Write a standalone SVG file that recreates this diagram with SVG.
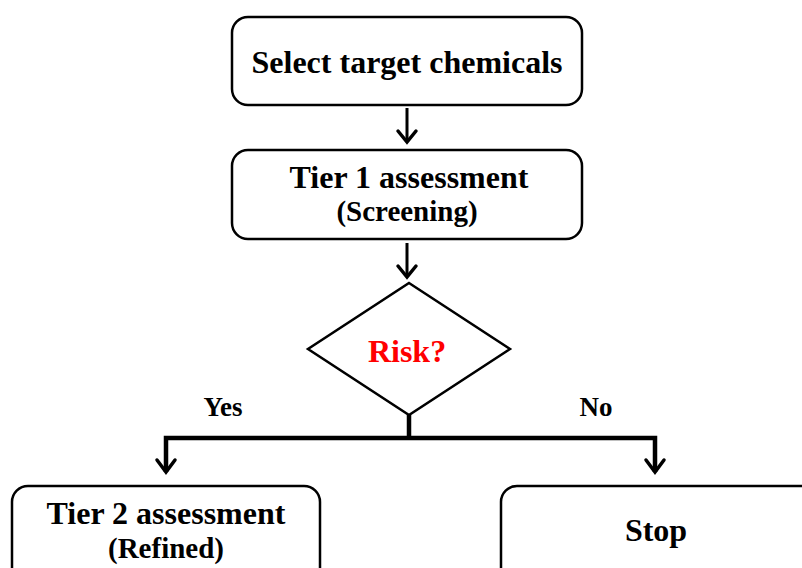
<svg xmlns="http://www.w3.org/2000/svg" width="802" height="568" viewBox="0 0 802 568">
<defs>
<style>
.box{fill:#fff;stroke:#000;stroke-width:2.5}
.t{font-family:"Liberation Serif","Times New Roman",serif;font-weight:bold;text-anchor:middle;fill:#000}
.big{font-size:32px}
.small{font-size:29px}
.ln{stroke:#000;stroke-width:3;fill:none}
.thick{stroke:#000;stroke-width:4.5;fill:none}
.head{stroke:#000;stroke-width:3.5;fill:none;stroke-linecap:round;stroke-linejoin:miter}
</style>
</defs>
<rect width="802" height="568" fill="#fff"/>
<g id="select">
<rect class="box" x="232" y="17" width="350" height="88" rx="16"/>
<text class="t big" x="407" y="73">Select target chemicals</text>
</g>
<g id="tier1">
<rect class="box" x="232" y="150" width="350" height="89" rx="16"/>
<text class="t big" x="409" y="188">Tier 1 assessment</text>
<text class="t small" x="407" y="221">(Screening)</text>
</g>
<g id="risk">
<polygon class="box" points="409,283 510,349 409,415 308,349"/>
<text class="t" x="407" y="362" font-size="32" style="fill:#f00">Risk?</text>
</g>
<g id="tier2">
<rect class="box" x="12" y="486" width="308" height="100" rx="16"/>
<text class="t big" x="166" y="524">Tier 2 assessment</text>
<text class="t small" x="166" y="558">(Refined)</text>
</g>
<g id="stop">
<rect class="box" x="501" y="486" width="320" height="100" rx="16"/>
<text class="t big" x="656" y="541">Stop</text>
</g>
<g id="connectors">
<line class="ln" x1="407" y1="108" x2="407" y2="142"/>
<polyline class="head" points="398,131 407,142 416,131"/>
<line class="ln" x1="407" y1="243" x2="407" y2="277"/>
<polyline class="head" points="398,266 407,277 416,266"/>
<line class="thick" x1="409" y1="415" x2="409" y2="438"/>
<polyline class="thick" points="166,472 166,438 655,438 655,472"/>
<polyline class="head" points="157,460 166,472 175,460"/>
<polyline class="head" points="646,460 655,472 664,460"/>
<text class="t" x="223" y="416" font-size="27">Yes</text>
<text class="t" x="596" y="416" font-size="27">No</text>
</g>
</svg>
